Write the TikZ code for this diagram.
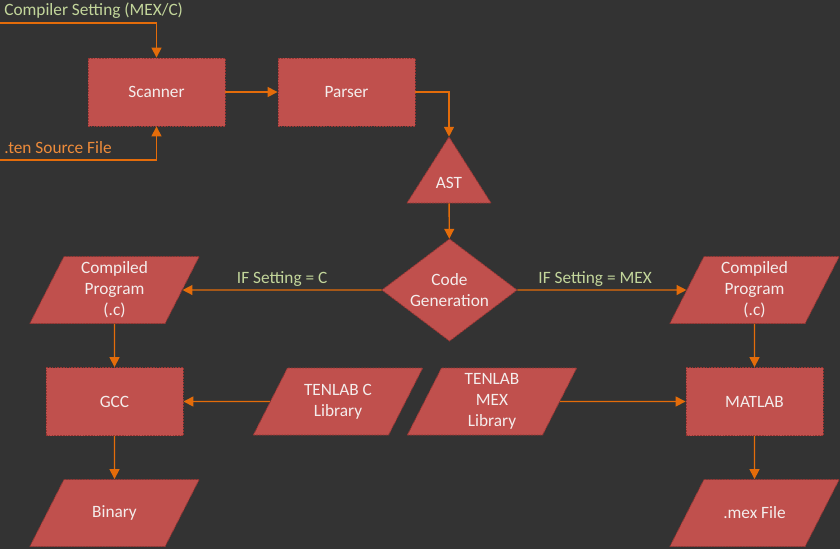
\documentclass[tikz,border=0pt]{standalone}
\usepackage{fontspec}
\setmainfont{Carlito}
\usetikzlibrary{shapes.geometric,arrows.meta}
\definecolor{bgdark}{HTML}{333333}
\definecolor{boxred}{HTML}{C0504D}
\definecolor{boxedge}{HTML}{963633}
\definecolor{nodetext}{HTML}{F4EDEC}
\definecolor{floworange}{HTML}{E46C0A}
\definecolor{condtext}{HTML}{C3D69B}
\definecolor{srctext}{HTML}{EE8B3A}
\begin{document}
\begin{tikzpicture}[x=0.025cm,y=-0.025cm,
  every node/.style={font=\fontsize{12.3}{15}\selectfont},
  outline/.style={fill=boxred,draw=boxedge,line width=0.6pt,dash pattern=on 1.2pt off 0.8pt},
  stage/.style={rectangle,outline,text=nodetext,minimum width=3.425cm,minimum height=1.7cm,inner sep=0pt},
  data/.style={trapezium,trapezium left angle=63,trapezium right angle=117,
    outline,text=nodetext,inner sep=0pt,
    execute at begin node={\begin{minipage}[c][1.675cm][c]{2.525cm}\centering},
    execute at end node={\end{minipage}}},
  tribox/.style={rectangle,minimum width=2.1cm,minimum height=1.65cm,inner sep=0pt,text=nodetext,
    text height=0.925cm,text depth=0pt,
    path picture={\filldraw[outline] (path picture bounding box.south west) -- (path picture bounding box.north)
      -- (path picture bounding box.south east) -- cycle;}},
  decision/.style={rectangle,minimum width=3.375cm,minimum height=2.55cm,inner sep=0pt,align=center,text=nodetext,
    path picture={\filldraw[outline] (path picture bounding box.north) -- (path picture bounding box.east)
      -- (path picture bounding box.south) -- (path picture bounding box.west) -- cycle;}},
  flowline/.style={draw=floworange,line width=1pt,-{Triangle[length=7pt,width=7pt]}},
  cond/.style={text=condtext,above,inner sep=2pt}]
\fill[bgdark] (0,0) rectangle (840,549);
\useasboundingbox (0,0) rectangle (840,549);

\node[stage] (scanner) at (156.5,92) {Scanner};
\node[stage] (parser) at (346.5,92) {Parser};
\node[tribox] (ast) at (449,170) {AST};
\node[decision] (gen) at (449.5,290) {Code\\Generation};
\node[data] (progc) at (114.5,290) {Compiled\\Program\\(.c)};
\node[data] (progmex) at (754.5,290) {Compiled\\Program\\(.c)};
\node[stage] (gcc) at (114.5,401.5) {GCC};
\node[stage] (matlab) at (754.5,401.5) {MATLAB};
\node[data] (libc) at (338,401.5) {TENLAB C\\Library};
\node[data] (libmex) at (492,401.5) {TENLAB\\MEX\\Library};
\node[data] (binary) at (114.5,513) {Binary};
\node[data] (mexfile) at (754.5,513) {.mex File};

\coordinate (setin) at (0,23);
\coordinate (srcin) at (0,160);
\node[anchor=west,text=condtext,inner sep=0pt] (setlabel) at (4,11) {Compiler Setting (MEX/C)};
\node[anchor=west,text=srctext,inner sep=0pt] (srclabel) at (4,148) {.ten Source File};

\draw[flowline] (setin) -| (scanner);
\draw[flowline] (srcin) -| (scanner);
\draw[flowline] (scanner) -- (parser);
\draw[flowline] (parser) -| (ast);
\draw[flowline] (ast) -- (gen);
\draw[flowline] (gen) -- node[cond] (condc) {IF Setting = C} (progc);
\draw[flowline] (gen) -- node[cond,pos=0.46] (condmex) {IF Setting = MEX} (progmex);
\draw[flowline] (progc) -- (gcc);
\draw[flowline] (progmex) -- (matlab);
\draw[flowline] (libc) -- (gcc);
\draw[flowline] (libmex) -- (matlab);
\draw[flowline] (gcc) -- (binary);
\draw[flowline] (matlab) -- (mexfile);
\end{tikzpicture}
\end{document}
